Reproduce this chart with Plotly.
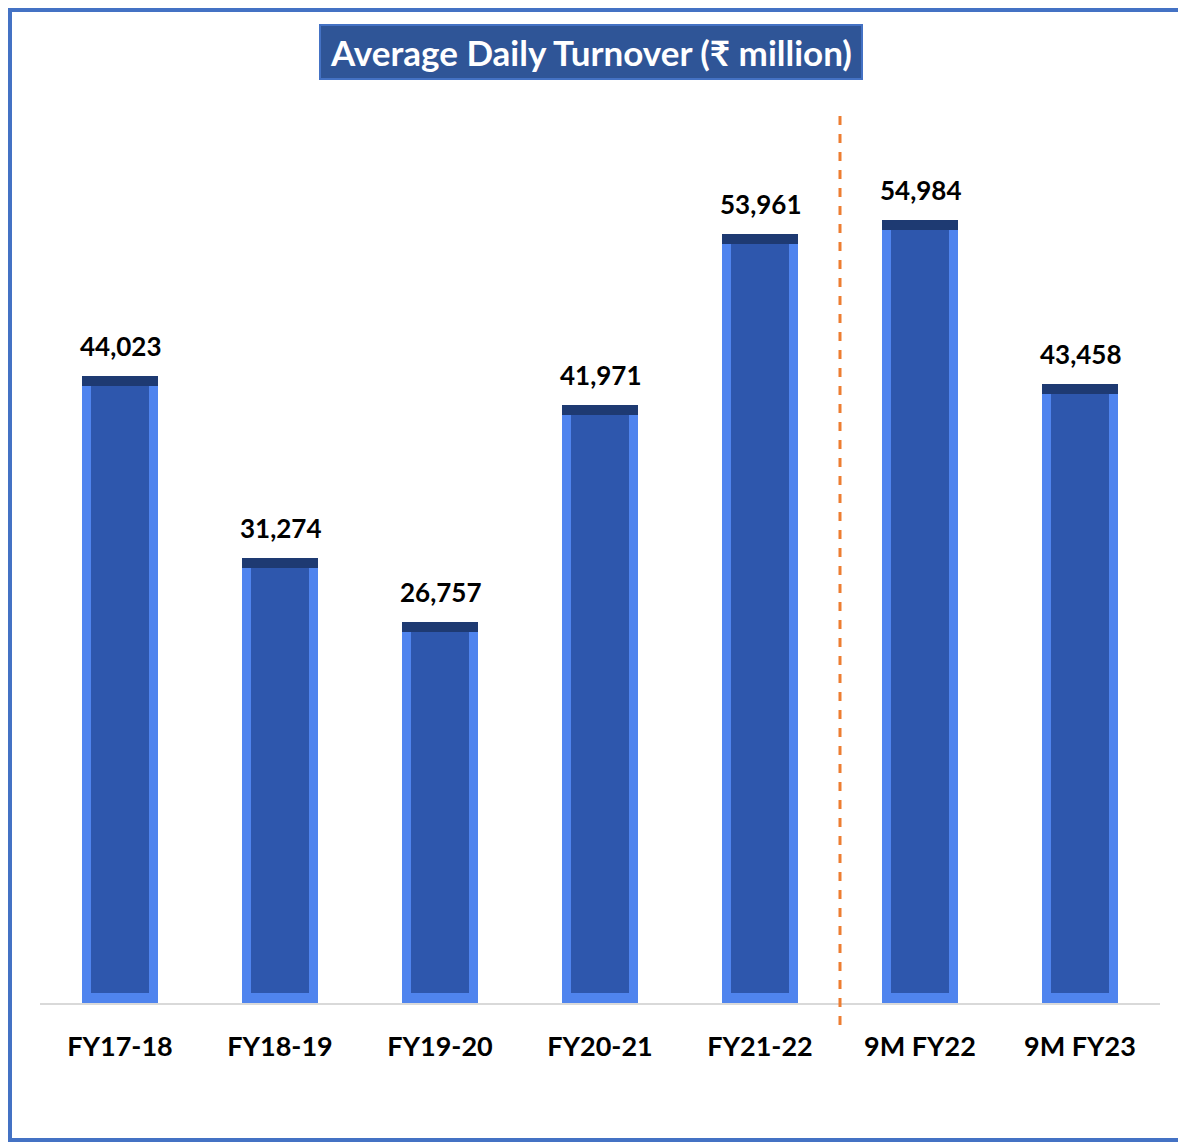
import plotly.graph_objects as go

categories = ["FY17-18", "FY18-19", "FY19-20", "FY20-21", "FY21-22", "9M FY22", "9M FY23"]
values = [44023, 31274, 26757, 41971, 53961, 54984, 43458]
value_labels = ["44,023", "31,274", "26,757", "41,971", "53,961", "54,984", "43,458"]
title_text = "Average Daily Turnover (₹ million)"

OFF = 8  # page body margin
W, H = 1186 - OFF, 1143 - OFF
ML, MT = 40 - OFF, 100 - OFF
BASE_Y = 1003 - OFF
MB = H - BASE_Y
MR = W - ML - 1120
PW = W - ML - MR
PH = H - MT - MB
YMAX = 63400
px_per_unit = PH / YMAX

def px_to_paper_x(px):
    return (px - OFF - ML) / PW

def px_to_paper_y(py):
    return (H - MB - (py - OFF)) / PH

bevel = 10 / px_per_unit
bar_w = 0.47
inner_w = bar_w * 58 / 75
FONT = "Lato"

fig = go.Figure()
# dark top bevel
fig.add_trace(go.Bar(x=categories, y=values, width=bar_w, marker=dict(color="#1E3A72", line=dict(width=0)),
                     hoverinfo="skip", showlegend=False))
# light side/bottom bevels
fig.add_trace(go.Bar(x=categories, y=[v - bevel for v in values], width=bar_w,
                     marker=dict(color="#4F84EE", line=dict(width=0)), hoverinfo="skip", showlegend=False))
# main face
fig.add_trace(go.Bar(x=categories, y=[v - 2 * bevel for v in values], base=[bevel] * len(values),
                     width=inner_w, marker=dict(color="#2E57AD", line=dict(width=0)),
                     hoverinfo="skip", showlegend=False))

for c, v, lab in zip(categories, values, value_labels):
    fig.add_annotation(x=c, y=v, text=f"<b>{lab}</b>", showarrow=False, yshift=30,
                       font=dict(family=FONT, size=26, color="black"))

# divider dashed line between FY21-22 and 9M FY22
fig.add_shape(type="line", xref="x", yref="paper", x0=4.5, x1=4.5,
              y0=px_to_paper_y(1025), y1=px_to_paper_y(112),
              line=dict(color="#ED7D31", width=3, dash="dash"))

# outer frame
fig.add_shape(type="rect", xref="paper", yref="paper",
              x0=px_to_paper_x(10), x1=px_to_paper_x(1220),
              y0=px_to_paper_y(1140), y1=px_to_paper_y(10),
              line=dict(color="#4472C4", width=4), fillcolor="rgba(0,0,0,0)", layer="below")

# title box
fig.add_annotation(xref="paper", yref="paper", x=px_to_paper_x(591), y=px_to_paper_y(52),
                   text=f"<b>{title_text}</b>", showarrow=False, xanchor="center", yanchor="middle",
                   width=538, height=50, bgcolor="#2F5597", bordercolor="#4472C4", borderwidth=2,
                   font=dict(family=FONT, size=35, color="white"))

fig.update_layout(
    width=W, height=H, barmode="overlay", bargap=0,
    margin=dict(l=ML, r=MR, t=MT, b=MB),
    paper_bgcolor="white", plot_bgcolor="white",
    xaxis=dict(showline=True, linecolor="#D9D9D9", linewidth=2, showgrid=False, ticks="",
               tickfont=dict(family=FONT, size=27, color="black"), ticklabelstandoff=19,
               tickvals=categories, ticktext=[f"<b>{c}</b>" for c in categories]),
    yaxis=dict(visible=False, range=[0, YMAX], showgrid=False, zeroline=False),
)

fig.write_html("out.html")
